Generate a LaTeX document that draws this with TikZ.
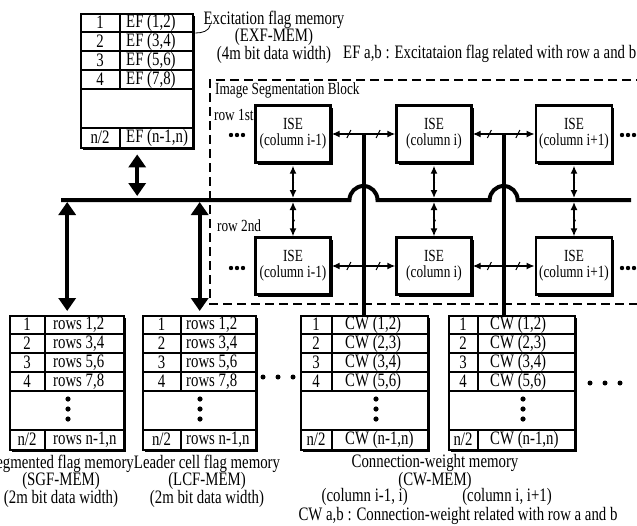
\documentclass[tikz,border=0pt]{standalone}
\usepackage{fontspec}
\setmainfont{Liberation Serif}[FakeStretch=0.78]
\usetikzlibrary{arrows.meta,positioning,calc,shadows,decorations.markings}

% memory table: name, left, top, width, key width, text pad, entries, last entry
\newcommand{\memtable}[8]{%
  \node[tabframe, minimum width=#4pt, anchor=north west] (#1) at (#2,#3) {};
  \foreach \k/\v [count=\rw] in {#7} {
    \draw[rowline] (#2,#3+19*\rw) -- ++(#4,0);
    \draw[rowline] (#2+#5,#3+19*\rw-19) -- ++(0,19);
    \node[celltext] (#1-k\rw) at (#2+#5/2,#3+19*\rw-9.5) {\k};
    \node[celltext, anchor=west] (#1-v\rw) at (#2+#5+#6,#3+19*\rw-9.5) {\v};
  }
  \draw[rowline] (#2,#3+115) -- ++(#4,0);
  \draw[rowline] (#2+#5,#3+115) -- ++(0,19);
  \node[celltext] (#1-kn) at (#2+#5/2,#3+124.5) {n/2};
  \node[celltext, anchor=west] (#1-vn) at (#2+#5+#6,#3+124.5) {#8};
}

\begin{document}
\begin{tikzpicture}[x=1pt, y=-1pt,
    every node/.style={font=\fontsize{19pt}{17.5pt}\selectfont},
    tabframe/.style={draw, line width=2.4pt, fill=white, minimum height=134pt, inner sep=0pt,
      drop shadow={shadow xshift=2pt, shadow yshift=-2pt, fill=black, opacity=1}},
    rowline/.style={line width=1.3pt},
    celltext/.style={inner sep=0pt},
    ise/.style={draw, line width=2.4pt, fill=white, minimum width=75pt, minimum height=57pt,
      align=center, font=\fontsize{17pt}{16pt}\selectfont,
      drop shadow={shadow xshift=2pt, shadow yshift=-2pt, fill=black, opacity=1}},
    smalltext/.style={inner sep=0pt, font=\fontsize{17pt}{16pt}\selectfont},
    caption/.style={inner sep=0pt, align=center},
    bus/.style={line width=4pt},
    bigarr/.style={line width=4pt, {Triangle[width=17pt,length=13pt]}-{Triangle[width=17pt,length=13pt]}},
    linkarr/.style={line width=1.4pt, {Latex[width=7pt,length=8pt]}-{Latex[width=7pt,length=8pt]}},
    slash/.style={postaction={decorate, decoration={markings,
      mark=at position #1 with {\draw[line width=1pt, -] (-2pt,-4pt) -- (2pt,4pt);}}}},
    vslash/.style={postaction={decorate, decoration={markings,
      mark=at position #1 with {\draw[line width=1pt, -] (-3pt,-1.5pt) -- (3pt,1.5pt);}}}},
    blockline/.style={line width=1.8pt, dash pattern=on 9pt off 5pt}
  ]
  \useasboundingbox (0,0) rectangle (637,525);

  % memories
  \memtable{exf}{80}{13}{112}{40}{6}{1/{EF (1,2)}, 2/{EF (3,4)}, 3/{EF (5,6)}, 4/{EF (7,8)}}{EF (n-1,n)}
  \memtable{sgf}{9}{315}{114}{36}{8}{1/{rows 1,2}, 2/{rows 3,4}, 3/{rows 5,6}, 4/{rows 7,8}}{rows n-1,n}
  \memtable{lcf}{142}{315}{113}{39}{5}{1/{rows 1,2}, 2/{rows 3,4}, 3/{rows 5,6}, 4/{rows 7,8}}{rows n-1,n}
  \memtable{cw1}{300}{315}{127}{32}{13}{1/{CW (1,2)}, 2/{CW (2,3)}, 3/{CW (3,4)}, 4/{CW (5,6)}}{CW (n-1,n)}
  \memtable{cw2}{448}{315}{126}{30}{12}{1/{CW (1,2)}, 2/{CW (2,3)}, 3/{CW (3,4)}, 4/{CW (5,6)}}{CW (n-1,n)}
  \foreach \t/\dx in {sgf/59, lcf/58, cw1/76, cw2/75}
    \foreach \dy in {84,94,104}
      \fill ($(\t.north west)+(\dx,\dy)$) circle (2.6pt);
  \foreach \x in {263,278,293} \fill (\x,377) circle (2.5pt);
  \foreach \x in {590,605,620} \fill (\x,383) circle (2.5pt);

  % labels
  \node[caption] (exflabel) at (274,37) {Excitation flag memory\\(EXF-MEM)\\(4m bit data width)};
  \node[caption, anchor=west] (eflegend) at (343,54) {EF a,b : Excitataion flag related with row a and b};
  \draw[line width=0.8pt] ($(exf.north east)+(1,20)$) to[out=0, in=-100] ($(exflabel.north west)+(7,14)$);
  \node[caption] (sgflabel) at (61,481) {Segmented flag memory\\(SGF-MEM)\\(2m bit data width)};
  \node[caption] (lcflabel) at (207,481) {Leader cell flag memory\\(LCF-MEM)\\(2m bit data width)};
  \node[caption] (cwlabel) at (435,472) {Connection-weight memory\\(CW-MEM)};
  \node[caption] (cw1label) at (cw1.south |- 0,497) {(column i-1, i)};
  \node[caption] (cw2label) at (507,497) {(column i, i+1)};
  \node[caption] (cwlegend) at (458,516) {CW a,b : Connection-weight related with row a and b};

  % image segmentation block
  \draw[blockline] (645,80) -- (210,80) -- (210,304) -- (645,304);
  \node[smalltext, anchor=west] (blocklabel) at (215,90) {Image Segmentation Block};
  \node[smalltext, anchor=west] (row1label) at (214,115) {row 1st};
  \node[smalltext, anchor=west] (row2label) at (217,226) {row 2nd};

  \node[ise] (ise11) at (293,134) {ISE\\(column i-1)};
  \node[ise] (ise12) at (434,134) {ISE\\(column i)};
  \node[ise] (ise13) at (574,134) {ISE\\(column i+1)};
  \node[ise] (ise21) at (293,266) {ISE\\(column i-1)};
  \node[ise] (ise22) at (434,266) {ISE\\(column i)};
  \node[ise] (ise23) at (574,266) {ISE\\(column i+1)};
  \foreach \x in {231,237,243,622,628,634}
    \foreach \y in {135,268}
      \fill (\x,\y) circle (2.2pt);

  \coordinate (busL) at (61,200);
  \coordinate (busR) at (631,200);
  \coordinate (j1) at ($(ise11.east)!0.5!(ise12.west)$);
  \coordinate (j2) at ($(ise12.east)!0.5!(ise13.west)$);

  % connection-weight lines
  \draw[bus] (j1) -- (j1 |- cw1.north);
  \draw[bus] (j2) -- (j2 |- cw2.north);

  % bus
  \draw[bus] (busL) -- ($(j1 |- busL)+(-14,0)$) arc[start angle=180, end angle=0, radius=14pt]
    -- ($(j2 |- busL)+(-14,0)$) arc[start angle=180, end angle=0, radius=14pt] -- (busR);

  \draw[bigarr, shorten <=5pt, shorten >=4pt] (exf.south) -- (exf.south |- busL);
  \draw[bigarr, shorten <=2pt, shorten >=4pt] (sgf.north |- busL) -- (sgf.north);
  \draw[bigarr, shorten <=2pt, shorten >=4pt] (lcf.north |- busL) -- (lcf.north);

  \draw[linkarr, slash=0.27, slash=0.73] (ise11) -- (ise12);
  \draw[linkarr, slash=0.27, slash=0.73] (ise12) -- (ise13);
  \draw[linkarr, slash=0.27, slash=0.73] (ise21) -- (ise22);
  \draw[linkarr, slash=0.27, slash=0.73] (ise22) -- (ise23);

  \foreach \n in {11,12,13} {
    \draw[linkarr, vslash=0.5, shorten <=2pt, shorten >=2pt] (ise\n.south) -- (ise\n.south |- busL);
  }
  \foreach \n in {21,22,23} {
    \draw[linkarr, vslash=0.5, shorten <=2pt] (ise\n.north |- busL) -- (ise\n.north);
  }
\end{tikzpicture}
\end{document}
